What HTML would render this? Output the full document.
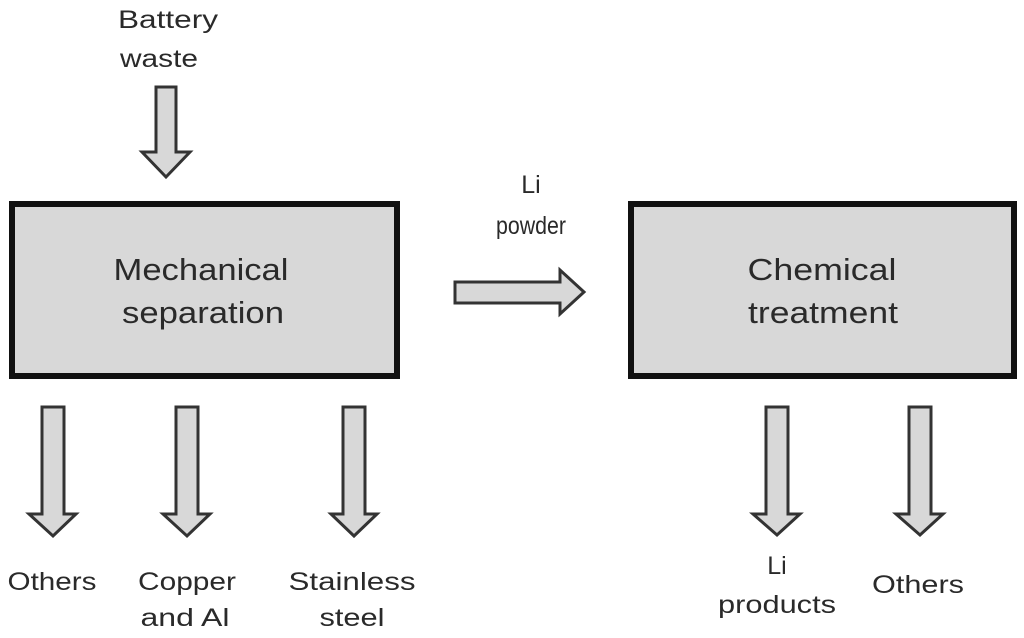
<!DOCTYPE html>
<html><head><style>
body{margin:0;background:#fff}
svg{display:block}
text{font-family:"Liberation Sans",Arial,sans-serif;fill:#2a2a2a;text-anchor:middle}
</style></head><body>
<svg width="1024" height="638" viewBox="0 0 1024 638">
<g fill="#d8d8d8" stroke="#333" stroke-width="3" stroke-linejoin="miter">
<rect x="12" y="204" width="385" height="172" stroke="#111" stroke-width="6"/>
<rect x="631" y="204" width="383" height="172" stroke="#111" stroke-width="6"/>
<polygon points="156,87 176,87 176,152 190,152 166,177 142,152 156,152"/>
<polygon points="455,282 560,282 560,270 584,292 560,314 560,303 455,303"/>
<polygon points="42,407 64,407 64,514 76,514 53,536 29,514 42,514"/>
<polygon points="176,407 198,407 198,514 210,514 187,536 163,514 176,514"/>
<polygon points="343,407 365,407 365,514 377,514 354,536 331,514 343,514"/>
<polygon points="766,407 788,407 788,514 800,514 777,535 753,514 766,514"/>
<polygon points="909,407 931,407 931,514 943,514 920,535 896,514 909,514"/>
</g>
<g font-size="25" lengthAdjust="spacingAndGlyphs">
<text x="168" y="28" textLength="100" lengthAdjust="spacingAndGlyphs">Battery</text>
<text x="159" y="67" textLength="78" lengthAdjust="spacingAndGlyphs">waste</text>
<text x="531" y="193">Li</text>
<text x="531" y="234" textLength="70" lengthAdjust="spacingAndGlyphs">powder</text>
<text x="52" y="590" textLength="89" lengthAdjust="spacingAndGlyphs">Others</text>
<text x="187" y="590" textLength="98" lengthAdjust="spacingAndGlyphs">Copper</text>
<text x="185" y="626" textLength="89" lengthAdjust="spacingAndGlyphs">and Al</text>
<text x="352" y="590" textLength="127" lengthAdjust="spacingAndGlyphs">Stainless</text>
<text x="352" y="626" textLength="65" lengthAdjust="spacingAndGlyphs">steel</text>
<text x="777" y="574">Li</text>
<text x="777" y="613" textLength="118" lengthAdjust="spacingAndGlyphs">products</text>
<text x="918" y="593" textLength="92" lengthAdjust="spacingAndGlyphs">Others</text>
</g>
<g font-size="31">
<text x="201" y="280" textLength="175" lengthAdjust="spacingAndGlyphs">Mechanical</text>
<text x="203" y="323" textLength="162" lengthAdjust="spacingAndGlyphs">separation</text>
<text x="822" y="280" textLength="149" lengthAdjust="spacingAndGlyphs">Chemical</text>
<text x="823" y="323" textLength="150" lengthAdjust="spacingAndGlyphs">treatment</text>
</g>
</svg>
</body></html>
